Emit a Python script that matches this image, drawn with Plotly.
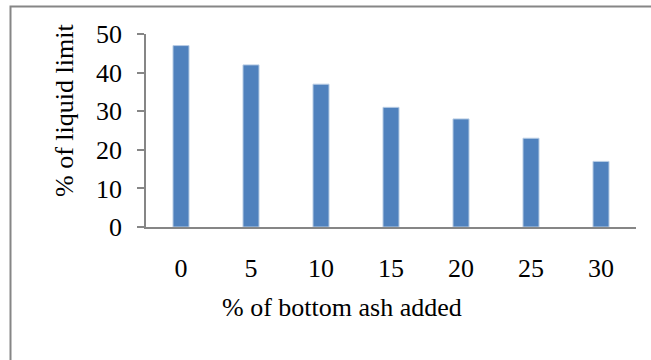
import plotly.graph_objects as go

# Bottom ash content (%) and the resulting liquid limit (%)
ash_added = ["0", "5", "10", "15", "20", "25", "30"]
liquid_limit = [47, 42, 37, 31, 28, 23, 17]
y_ticks = [0, 10, 20, 30, 40, 50]

FONT = "Liberation Serif"
AXIS_GREY = "#868686"

fig = go.Figure(
    go.Bar(
        x=ash_added,
        y=liquid_limit,
        marker=dict(color="#4F81BD", line=dict(color="#B9CDE5", width=1)),
    )
)

fig.update_layout(
    width=651,
    height=360,
    margin=dict(l=146, r=15, t=34, b=133),
    paper_bgcolor="white",
    plot_bgcolor="white",
    bargap=0.771,
    showlegend=False,
    font=dict(family=FONT, size=26, color="black"),
)

fig.update_xaxes(
    type="category",
    showline=True,
    linecolor=AXIS_GREY,
    linewidth=2,
    ticks="",
    showgrid=False,
    ticklabelstandoff=17,
    tickfont=dict(family=FONT, size=26, color="black"),
)

fig.update_yaxes(
    range=[0, 50],
    tickvals=y_ticks,
    showline=True,
    linecolor=AXIS_GREY,
    linewidth=1.5,
    ticks="outside",
    ticklen=7,
    tickwidth=1.5,
    tickcolor=AXIS_GREY,
    showgrid=False,
    zeroline=False,
    ticklabelstandoff=10,
    tickfont=dict(family=FONT, size=26, color="black"),
)

# Axis titles
fig.add_annotation(
    text="% of bottom ash added",
    xref="paper", yref="paper",
    x=(341.5 - 146) / 490, y=(227 - 307) / 193,
    xanchor="center", yanchor="middle",
    showarrow=False,
    font=dict(family=FONT, size=26, color="black"),
)
fig.add_annotation(
    text="% of liquid limit",
    xref="paper", yref="paper",
    x=(64 - 146) / 490, y=(227 - 111) / 193,
    xanchor="center", yanchor="middle",
    textangle=-90,
    showarrow=False,
    font=dict(family=FONT, size=26, color="black"),
)

# Chart-area frame
fig.add_shape(
    type="rect",
    xref="paper", yref="paper",
    x0=(10.5 - 146) / 490, x1=(700 - 146) / 490,
    y0=(227 - 400) / 193, y1=(227 - 6.5) / 193,
    line=dict(color=AXIS_GREY, width=2),
    fillcolor="rgba(0,0,0,0)",
    layer="below",
)

fig.write_html("out.html")
